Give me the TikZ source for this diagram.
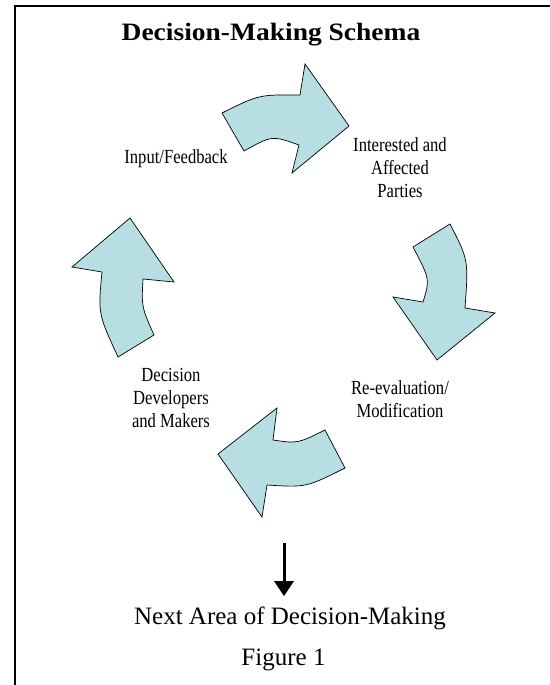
\documentclass[tikz,border=0pt]{standalone}
\usepackage{fontspec}
\setmainfont{Liberation Serif}
\newfontfamily\labelfont[FakeStretch=0.83]{Liberation Serif}
\newfontfamily\titlefont[FakeStretch=1.1]{Liberation Serif}
\usepackage{tikz}
\usetikzlibrary{arrows.meta,positioning}
\usepackage{xcolor}
\definecolor{schemablue}{RGB}{183,222,226}
\tikzstyle{nextarrow} = [line width=3pt,-{Triangle[width=19pt,length=15pt]},color=black]

\begin{document}
\begin{tikzpicture}[x=1pt, y=-1pt,
    cyclearrow/.style={draw=black, fill=schemablue, line width=0.7pt, line join=miter},
    steplabel/.style={align=center, anchor=base, inner sep=0pt, font=\labelfont\fontsize{20}{23}\selectfont},
    heading/.style={anchor=base, inner sep=0pt, font=\titlefont\bfseries\fontsize{25}{30}\selectfont},
    caption/.style={anchor=base, inner sep=0pt, font=\fontsize{25}{30}\selectfont}]

\useasboundingbox (0,0) rectangle (549,685);

% Frame
\draw[line width=2pt] (15,690) -- (15,6.3) -- (555,6.3);

% Title
\node[heading] (title) at (271,41) {Decision-Making Schema};

% Cycle arrows
\draw[cyclearrow] (222,113) .. controls (259,94.6) .. (300,95) -- (305,64) -- (349,126) -- (292,173)
    -- (299,145) .. controls (272,135.4) .. (244,151) -- cycle;
\draw[cyclearrow] (450,224) .. controls (468.5,260) .. (465,308) -- (495,313) -- (437,360) -- (393,297)
    -- (423,302) .. controls (430,279.5) .. (413,247) -- cycle;
\draw[cyclearrow] (345,468) -- (325,430) .. controls (297.6,443.6) .. (273,440) -- (277,408) -- (218,454)
    -- (262,517) -- (267,485) .. controls (306,487.5) .. (345,468) -- cycle;
\draw[cyclearrow] (130,218) -- (174,282) -- (143,279) .. controls (141.5,307) .. (154,335) -- (118,357)
    .. controls (98,313.7) .. (102,272) -- (72,267) -- cycle;

% Stages (base is the last line)
\node[steplabel] (input) at (176,163) {Input/Feedback};
\node[steplabel] (parties) at (400,197) {Interested and\\Affected\\Parties};
\node[steplabel] (revaluation) at (400,417) {Re-evaluation/\\Modification};
\node[steplabel] (makers) at (171,427) {Decision\\Developers\\and Makers};

% Next area
\node[caption] (nextarea) at (290,624) {Next Area of Decision-Making};
\node[caption] (figure) at (283.5,665) {Figure 1};
\coordinate (arrowtop) at (284,543);
\draw[nextarrow, shorten >=10pt] (arrowtop) -- (arrowtop |- nextarea.north);

\end{tikzpicture}
\end{document}
